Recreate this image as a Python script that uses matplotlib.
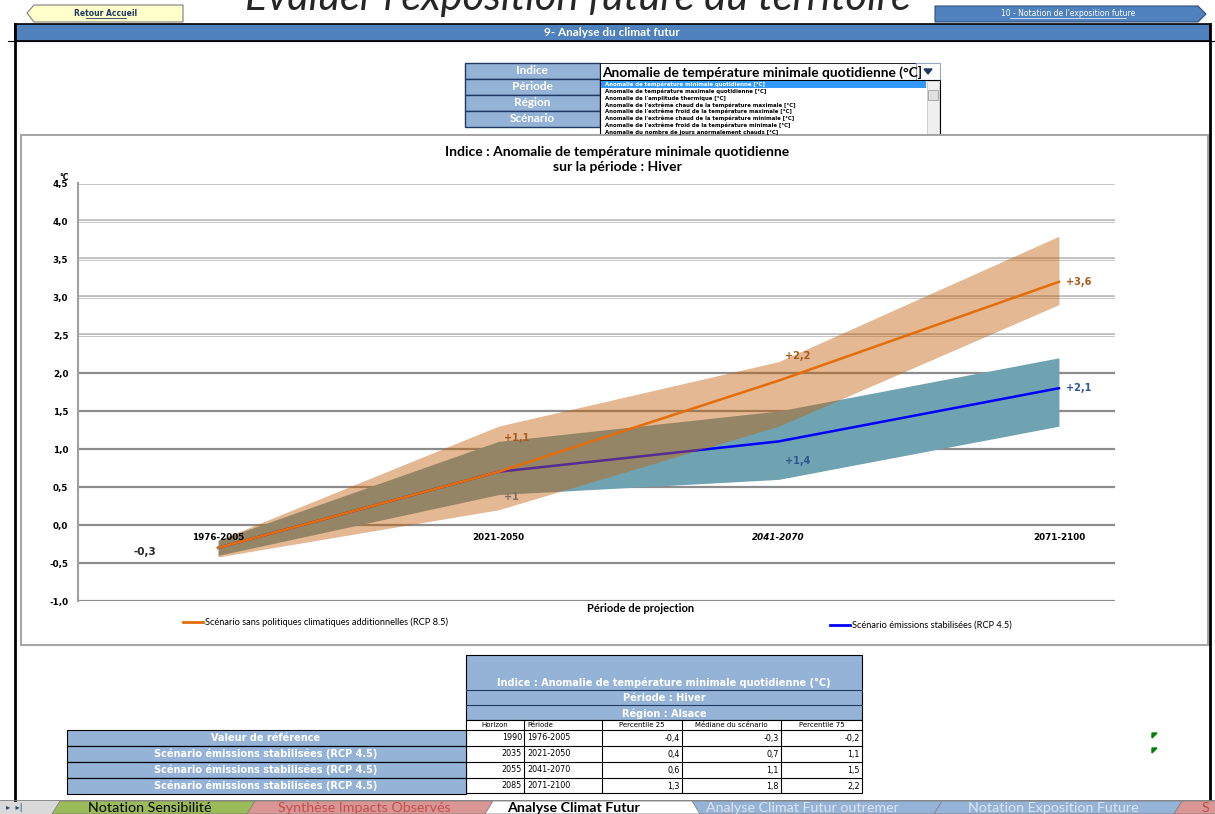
import matplotlib.pyplot as plt
from matplotlib.patches import Rectangle, Polygon

# données du graphique
periodes = ['1976-2005', '2021-2050', '2041-2070', '2071-2100']
rcp85_p25 = [-0.42, 0.2, 1.3, 2.9]
rcp85_med = [-0.3, 0.7, 1.9, 3.2]
rcp85_p75 = [-0.2, 1.3, 2.15, 3.8]
rcp45_p25 = [-0.4, 0.4, 0.6, 1.3]
rcp45_med = [-0.3, 0.7, 1.1, 1.8]
rcp45_p75 = [-0.2, 1.1, 1.5, 2.2]
etiq85 = ['', '+1,1', '+2,2', '+3,6']
etiq45 = ['', '+1', '+1,4', '+2,1']
valeur_ref = '-0,3'
yticks = [-1.0, -0.5, 0.0, 0.5, 1.0, 1.5, 2.0, 2.5, 3.0, 3.5, 4.0, 4.5]

# tableau du bas
horizons = ['1990', '2035', '2055', '2085']
tab_p25 = ['-0,4', '0,4', '0,6', '1,3']
tab_med = ['-0,3', '0,7', '1,1', '1,8']
tab_p75 = ['-0,2', '1,1', '1,5', '2,2']
lignes_tab = ['Valeur de référence', 'Scénario émissions stabilisées (RCP 4.5)',
              'Scénario émissions stabilisées (RCP 4.5)', 'Scénario émissions stabilisées (RCP 4.5)']
indices = ['Anomalie de température minimale quotidienne [°C]',
           'Anomalie de température maximale quotidienne [°C]',
           "Anomalie de l'amplitude thermique [°C]",
           "Anomalie de l'extrême chaud de la température maximale [°C]",
           "Anomalie de l'extrême froid de la température maximale [°C]",
           "Anomalie de l'extrême chaud de la température minimale [°C]",
           "Anomalie de l'extrême froid de la température minimale [°C]",
           'Anomalie du nombre de jours anormalement chauds [°C]']
onglets = ['Notation Sensibilité', 'Synthèse Impacts Observés', 'Analyse Climat Futur',
           'Analyse Climat Futur outremer', 'Notation Exposition Future', 'S']

W, H = 1215, 814
BLEU = '#4f81bd'
BLEU_CLAIR = '#95b3d7'
ORANGE = '#e46c0a'

fig = plt.figure(figsize=(W / 100, H / 100), dpi=100)
bg = fig.add_axes([0, 0, 1, 1])
bg.set_xlim(0, W)
bg.set_ylim(H, 0)
bg.axis('off')

# =======================
# En-tête
# =======================
bg.text(578, 10, "Evaluer l'exposition future du territoire", fontsize=30, style='italic',
        family='Lato', color='#262626', ha='center', va='baseline')
bg.add_patch(Polygon([[27, 13], [34, 5], [183, 5], [183, 22], [34, 22]], closed=True,
                     facecolor='#ffffcc', edgecolor='#7f7f7f', lw=0.8))
bg.text(106, 14, 'Retour Accueil', fontsize=5.5, weight='bold', color='#1f3864',
        ha='center', va='center')
bg.plot([86, 126], [18, 18], color='#1f3864', lw=0.6)
bg.add_patch(Polygon([[935, 6], [1198, 6], [1206, 14], [1198, 22], [935, 22]], closed=True,
                     facecolor=BLEU, edgecolor='#2f4f7f', lw=0.8))
bg.text(1068, 14, "10 - Notation de l'exposition future", fontsize=5.5, color='white',
        ha='center', va='center')
bg.plot([1010, 1126], [18, 18], color='white', lw=0.5)

bg.add_patch(Rectangle((15, 24), 1195, 17, facecolor=BLEU, edgecolor='black', lw=1.2))
bg.text(612, 32.5, '9- Analyse du climat futur', fontsize=8.5, weight='bold', family='Lato',
        color='white', ha='center', va='center')
bg.plot([8, 1215], [41, 41], color='black', lw=0.8)
bg.plot([15, 15], [24, 800], color='black', lw=2)
bg.plot([1210, 1210], [24, 800], color='black', lw=2)

# sélecteurs
for i, lab in enumerate(['Indice', 'Période', 'Région', 'Scénario']):
    y0 = 63 + i * 16
    bg.add_patch(Rectangle((465, y0), 135, 16, facecolor=BLEU_CLAIR, edgecolor='#1f3864', lw=1))
    bg.text(532, y0 + 8, lab, fontsize=8.5, weight='bold', family='Lato', color='white',
            ha='center', va='center')
boite = Rectangle((600, 63), 318, 17, facecolor='white', edgecolor='black', lw=0.6)
bg.add_patch(boite)
t = bg.text(602, 72, indices[0].replace('[', '('), fontsize=9.9, family='Lato', weight='bold',
            color='black', va='center')
t.set_clip_path(boite)
bg.add_patch(Rectangle((916, 63), 24, 17, facecolor='white', edgecolor='#8ea9c8', lw=0.8))
bg.add_patch(Polygon([[924, 69], [932, 69], [928, 74]], closed=True, color='#1f3864'))
bg.add_patch(Rectangle((600, 80), 340, 55, facecolor='white', edgecolor='black', lw=0.8))
bg.add_patch(Rectangle((601, 81), 325, 6.5, facecolor='#3399ff', edgecolor='none'))
for i, item in enumerate(indices):
    bg.text(605, 84.5 + i * 6.8, item, fontsize=3.9, weight='bold',
            color='white' if i == 0 else 'black', va='center')
bg.add_patch(Rectangle((927, 81), 12, 53, facecolor='#f0f0f0', edgecolor='#c0c0c0', lw=0.5))
bg.add_patch(Rectangle((928, 90), 10, 10, facecolor='#e0e0e0', edgecolor='#909090', lw=0.5))

# cadre du graphique
bg.add_patch(Rectangle((21, 135), 1187, 510, facecolor='white', edgecolor='#a6a6a6', lw=1.5))
bg.text(617, 152, 'Indice : Anomalie de température minimale quotidienne', fontsize=10,
        weight='bold', family='Lato', ha='center', va='center')
bg.text(617, 167, 'sur la période : Hiver', fontsize=10, weight='bold', family='Lato',
        ha='center', va='center')
bg.text(641, 609, 'Période de projection', fontsize=8, weight='bold', family='Lato',
        ha='center', va='center')
bg.plot([183, 203], [622, 622], color=ORANGE, lw=2)
bg.text(205, 622, 'Scénario sans politiques climatiques additionnelles (RCP 8.5)', fontsize=6.7,
        family='Lato', va='center')
bg.plot([830, 850], [625, 625], color='blue', lw=2)
bg.text(852, 625, 'Scénario émissions stabilisées (RCP 4.5)', fontsize=6.7, family='Lato',
        va='center')
bg.text(64, 178, '°C', fontsize=5.5, weight='bold', ha='center', va='center')

# =======================
# Graphique
# =======================
ax = fig.add_axes([78 / W, 1 - 601 / H, (1115 - 78) / W, (601 - 183) / H])
ax.set_facecolor('none')
x = list(range(len(periodes)))
ax.set_xlim(-0.5, 3.2)
ax.set_ylim(-1.0, 4.5)

for v in yticks:
    if v >= 2.5:
        ax.axhline(v, color='#bdbdbd', lw=2.6, zorder=0)
        ax.axhline(v, color='white', lw=0.7, zorder=0)
    else:
        ax.axhline(v, color='#8c8c8c', lw=1.6, zorder=0)

ax.fill_between(x, rcp45_p25, rcp45_p75, color='#6fa3b1', lw=0, zorder=1)
ax.plot(x, rcp45_med, color='blue', lw=1.8, zorder=2)
ax.fill_between(x, rcp85_p25, rcp85_p75, color='#c3620d', alpha=0.45, lw=0, zorder=3)
ax.plot(x, rcp85_med, color=ORANGE, lw=1.8, zorder=4)

# étiquettes de valeurs (décalages en pixels, y vers le haut)
dec85 = [(0, 0), (6, 34), (6, 25), (7, 0)]
dec45 = [(0, 0), (6, -25), (6, -20), (7, 0)]
for i in x:
    if etiq85[i]:
        ax.annotate(etiq85[i], (x[i], rcp85_med[i]), xytext=dec85[i], textcoords='offset pixels',
                    fontsize=7, weight='bold', color='#a85a1c', va='center', zorder=5)
    if etiq45[i]:
        ax.annotate(etiq45[i], (x[i], rcp45_med[i]), xytext=dec45[i], textcoords='offset pixels',
                    fontsize=7, weight='bold', color='#7a6e68' if i == 1 else '#2f5597',
                    va='center', zorder=5)
ax.annotate(valeur_ref, (x[0], rcp45_med[0]), xytext=(-73, -4), textcoords='offset pixels',
            fontsize=7.5, weight='bold', color='#262626', ha='center', va='center')
for i, p in enumerate(periodes):
    ax.text(x[i], -0.16, p, fontsize=6.3, weight='bold', ha='center', va='center',
            style='italic' if i == 2 else 'normal', zorder=5)

ax.set_xticks([])
ax.set_yticks(yticks)
ax.set_yticklabels([f'{v:.1f}'.replace('.', ',') for v in yticks], fontsize=6.3, weight='bold')
ax.tick_params(axis='y', length=0, pad=7)
for s in ['top', 'right', 'bottom']:
    ax.spines[s].set_visible(False)
ax.spines['left'].set_color('#a0a0a0')
ax.spines['left'].set_linewidth(1.5)

# =======================
# Tableau du bas
# =======================
bg.add_patch(Rectangle((466, 655), 396, 65, facecolor=BLEU_CLAIR, edgecolor='black', lw=0.8))
for yl in [690, 705]:
    bg.plot([466, 862], [yl, yl], color='#1f3864', lw=0.8)
bg.text(664, 683, 'Indice : Anomalie de température minimale quotidienne (°C)', fontsize=7,
        weight='bold', color='white', ha='center', va='center')
bg.text(664, 698, 'Période : Hiver', fontsize=7, weight='bold', color='white',
        ha='center', va='center')
bg.text(664, 713.5, 'Région : Alsace', fontsize=7, weight='bold', color='white',
        ha='center', va='center')
cols = [466, 524, 602, 682, 781, 862]
entetes = ['Horizon', 'Période', 'Percentile 25', 'Médiane du scénario', 'Percentile 75']
bg.add_patch(Rectangle((466, 720), 396, 73, facecolor='white', edgecolor='black', lw=0.8))
for j, e in enumerate(entetes):
    xc = (cols[j] + cols[j + 1]) / 2 if j != 1 else cols[j] + 3
    bg.text(xc, 725, e, fontsize=5, ha='left' if j == 1 else 'center', va='center')
for c in cols[1:-1]:
    bg.plot([c, c], [720, 793], color='black', lw=0.8)
bg.plot([466, 862], [730, 730], color='black', lw=0.8)
for i in range(4):
    y0 = 730 + i * 16
    yc = y0 + 8
    if i > 0:
        bg.plot([67, 862], [y0, y0], color='black', lw=0.8)
    bg.add_patch(Rectangle((67, y0), 399, 16, facecolor=BLEU_CLAIR, edgecolor='black', lw=0.8))
    bg.text(266, yc, lignes_tab[i], fontsize=7, weight='bold', color='white',
            ha='center', va='center')
    vals = [horizons[i], periodes[i], tab_p25[i], tab_med[i], tab_p75[i]]
    for j, v in enumerate(vals):
        if j == 1:
            bg.text(cols[j] + 3, yc, v, fontsize=5.8, ha='left', va='center')
        else:
            bg.text(cols[j + 1] - 2, yc, v, fontsize=5.8, ha='right', va='center')
for yt in [733, 748]:
    bg.add_patch(Polygon([[1152, yt], [1157, yt], [1152, yt + 5]], closed=True, color='#008000'))

# =======================
# Onglets
# =======================
bg.add_patch(Rectangle((0, 800), W, 14, facecolor='#d9d9d9', edgecolor='none'))
bg.plot([0, W], [800, 800], color='#7f7f7f', lw=0.6)
bg.text(14, 808, '▸  ▸|', fontsize=6, color='#1f497d', ha='center', va='center')
tabs_x = [60, 255, 493, 692, 942, 1182, 1215]
tabs_txt_x = [88, 278, 507, 706, 968, 1202]
tabs_col = ['#9bbb59', '#da9694', 'white', BLEU_CLAIR, BLEU_CLAIR, '#da9694']
tabs_txt = ['black', '#c0504d', 'black', '#dce6f1', '#dce6f1', '#c0504d']
for k, t in enumerate(onglets):
    x0, x1 = tabs_x[k], tabs_x[k + 1]
    bg.add_patch(Polygon([[x0 - 8, 814], [x0, 801], [x1, 801], [x1 + 8, 814]], closed=True,
                         facecolor=tabs_col[k], edgecolor='#7f7f7f', lw=0.6,
                         zorder=3 if k == 2 else 2))
    bg.text(tabs_txt_x[k], 808.5, t, fontsize=10.3, family='Lato', color=tabs_txt[k],
            weight='bold' if k == 2 else 'normal', va='center', zorder=4)

fig.savefig('out.png', dpi=100)
